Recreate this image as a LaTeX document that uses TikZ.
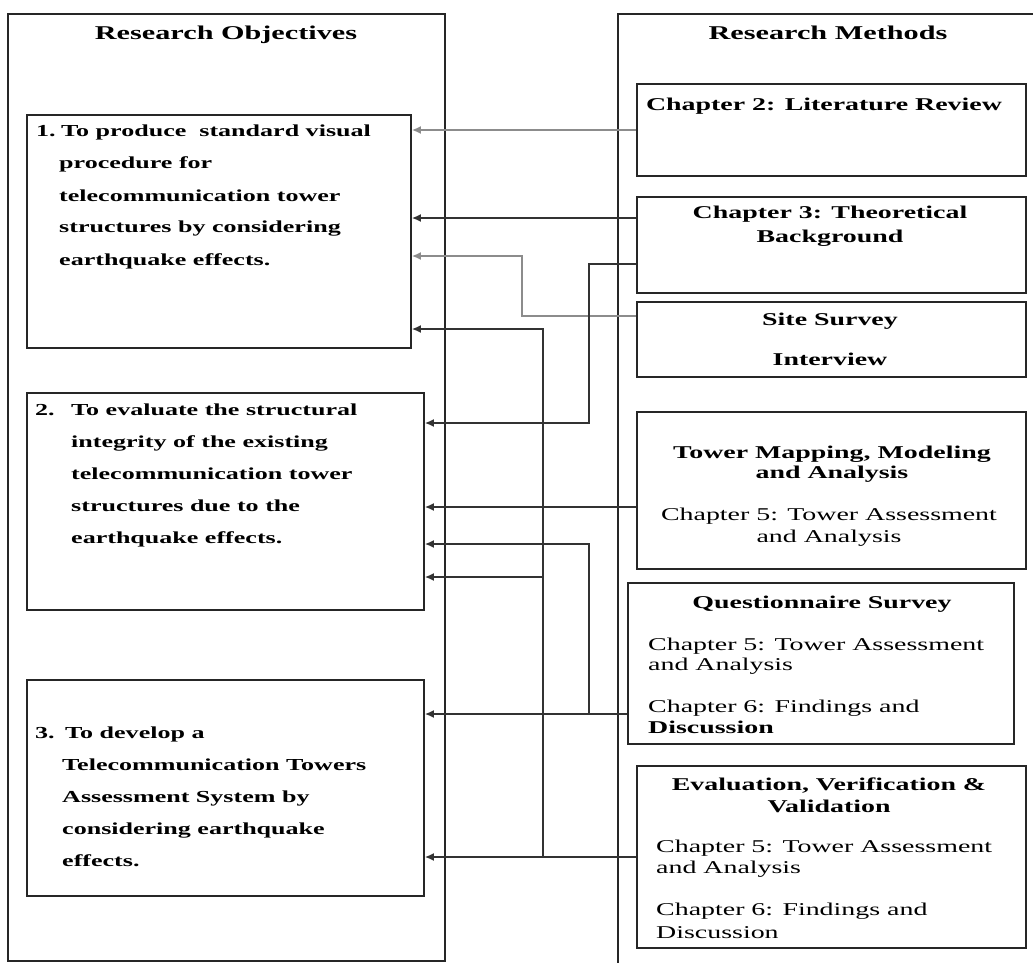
\documentclass[tikz,border=0pt]{standalone}
\usepackage{fontspec}
\setmainfont{Liberation Serif}[FakeStretch=1.55]
\usetikzlibrary{arrows.meta,fit}
\newcommand\txtlines[2]{\begin{tabular}[t]{@{}#1@{}}#2\end{tabular}}
\begin{document}
\begin{tikzpicture}[x=1pt,y=-1pt]
\tikzset{
 frame/.style={draw=black!85,line width=2.4pt,inner sep=0pt},
 box/.style={draw=black!85,line width=1.8pt,inner sep=0pt},
 wire/.style={draw=black!80,line width=1.5pt},
 soft/.style={draw=black!45,line width=1.5pt},
 tip/.style={-{Latex[length=9pt,width=8pt]}},
 ttl/.style={inner sep=0pt,anchor=base,font=\fontsize{19.5}{23}\selectfont\bfseries},
 obj/.style={inner sep=0pt,anchor=base west,font=\fontsize{16.8}{32}\selectfont\bfseries},
 hd/.style={inner sep=0pt,anchor=base,font=\fontsize{18}{21}\selectfont\bfseries},
 bd/.style={inner sep=0pt,font=\fontsize{18}{21}\selectfont},
}
\useasboundingbox (0,0) rectangle (1033,963);
\fill[white] (0,0) rectangle (1033,963);

% outer frames
\node[frame,fit={(8,14)(445,961)}] (lf) {};
\coordinate (rf1) at (1033,14);
\coordinate (rf2) at (618,14);
\coordinate (rf3) at (618,963);
\draw[frame] (rf1) -- (rf2) -- (rf3);

% objective boxes
\node[box,fit={(27,115)(411,348)}] (o1) {};
\node[box,fit={(27,393)(424,610)}] (o2) {};
\node[box,fit={(27,680)(424,896)}] (o3) {};

% method boxes
\node[box,fit={(637,84)(1026,176)}] (m2) {};
\node[box,fit={(637,197)(1026,293)}] (m3) {};
\node[box,fit={(637,302)(1026,377)}] (ss) {};
\node[box,fit={(637,412)(1026,569)}] (tm) {};
\node[box,line width=2.4pt,fit={(628,583)(1014,744)}] (qs) {};
\node[box,fit={(637,766)(1026,948)}] (ev) {};

% titles
\node[ttl] (tro) at (226,40) {Research Objectives};
\node[ttl] (trm) at (828,40) {Research Methods};

% objective texts
\node[obj] (n1) at (36,137) {1.};
\node[obj] (b1) at (59,137) {\txtlines{l}{\hspace*{2pt}To produce\ \ standard visual\\procedure for\\telecommunication tower\\structures by considering\\earthquake effects.}};
\node[obj] (n2) at (35,415) {2.};
\node[obj] (b2) at (71,415) {\txtlines{l}{To evaluate the structural\\integrity of the existing\\telecommunication tower\\structures due to the\\earthquake effects.}};
\node[obj] (n3) at (35,738) {3.};
\node[obj] (b3) at (62,738) {\txtlines{l}{\hspace*{3pt}To develop a\\Telecommunication Towers\\Assessment System by\\considering earthquake\\effects.}};

% method texts
\node[hd] (h2) at (824,111) {Chapter 2: Literature Review};
\node[hd,font=\fontsize{18}{24}\selectfont\bfseries] (h3) at (830,218) {\txtlines{c}{Chapter 3: Theoretical\\Background}};
\node[hd] (h4a) at (830,325) {Site Survey};
\node[hd] (h4b) at (830,365) {Interview};
\node[hd,font=\fontsize{18}{20}\selectfont\bfseries] (h5) at (832,458) {\txtlines{c}{Tower Mapping, Modeling\\and Analysis}};
\node[bd,anchor=base,font=\fontsize{18}{22}\selectfont] (b5) at (829,520) {\txtlines{c}{Chapter 5: Tower Assessment\\and Analysis}};
\node[hd] (h6) at (822,608) {Questionnaire Survey};
\node[bd,anchor=base west,font=\fontsize{18}{20}\selectfont] (b6a) at (648,650) {\txtlines{l}{Chapter 5: Tower Assessment\\and Analysis}};
\node[bd,anchor=base west,font=\fontsize{18}{21}\selectfont] (b6b) at (648,712) {\txtlines{l}{Chapter 6: Findings and\\\textbf{Discussion}}};
\node[hd,font=\fontsize{18}{22}\selectfont\bfseries] (h7) at (829,790) {\txtlines{c}{Evaluation, Verification \&\\Validation}};
\node[bd,anchor=base west,font=\fontsize{18}{21}\selectfont] (b7a) at (656,852) {\txtlines{l}{Chapter 5: Tower Assessment\\and Analysis}};
\node[bd,anchor=base west,font=\fontsize{18}{23}\selectfont] (b7b) at (656,915) {\txtlines{l}{Chapter 6: Findings and\\Discussion}};

% connector levels
\coordinate (y218) at (0,218);
\coordinate (y256) at (0,256);
\coordinate (y264) at (0,264);
\coordinate (y316) at (0,316);
\coordinate (y329) at (0,329);
\coordinate (y423) at (0,423);
\coordinate (y507) at (0,507);
\coordinate (y544) at (0,544);
\coordinate (y577) at (0,577);
\coordinate (y714) at (0,714);
\coordinate (y857) at (0,857);
\coordinate (x522) at (522,0);
\coordinate (x543) at (543,0);
\coordinate (x589) at (589,0);

% connectors
\draw[soft,tip] (m2.west) -- (m2.west -| o1.east);
\draw[wire,tip] (m3.west |- y218) -- (o1.east |- y218);
\draw[soft,tip] (ss.west |- y316) -- (x522 |- y316) -- (x522 |- y256) -- (o1.east |- y256);
\draw[wire,tip] (m3.west |- y264) -- (x589 |- y264) -- (x589 |- y423) -- (o2.east |- y423);
\draw[wire,tip] (tm.west |- y507) -- (o2.east |- y507);
\draw[wire,tip] (qs.west |- y714) -- (o3.east |- y714);
\draw[wire,tip] (x589 |- y714) -- (x589 |- y544) -- (o2.east |- y544);
\draw[wire,tip] (ev.west |- y857) -- (o3.east |- y857);
\draw[wire,tip] (x543 |- y857) -- (x543 |- y329) -- (o1.east |- y329);
\draw[wire,tip] (x543 |- y577) -- (o2.east |- y577);
\end{tikzpicture}
\end{document}
